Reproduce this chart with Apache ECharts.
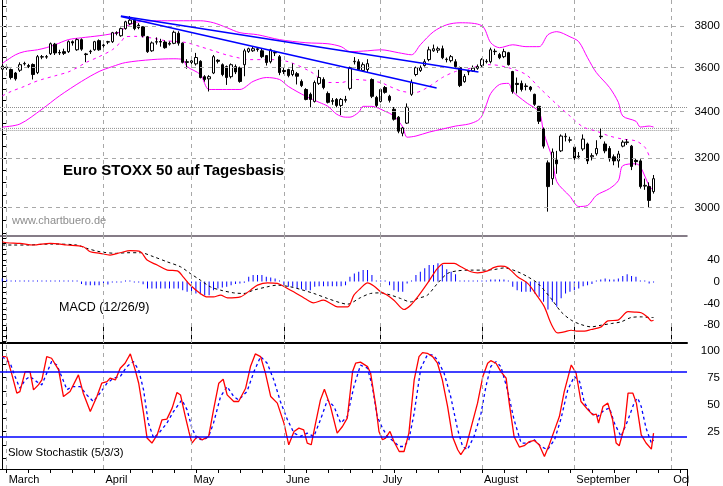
<!DOCTYPE html>
<html>
<head>
<meta charset="utf-8">
<title>EuroSTOXX 50 auf Tagesbasis</title>
<script src="https://cdn.jsdelivr.net/npm/echarts@6/dist/echarts.min.js"></script>
<style>
html, body { margin: 0; padding: 0; background: #fff; }
#main { width: 723px; height: 486px; }
</style>
</head>
<body>
<div id="main"></div>
<script>
var chart = echarts.init(document.getElementById('main'));

// trading day index 0 = 27 Feb, 148 = 25 Sep
var monthStarts = [1, 23, 43, 64, 86, 109, 130, 152];
var monthNames = ['March', 'April', 'May', 'June', 'July', 'August', 'September', 'October'];
var weekStarts = [1, 6, 11, 16, 21, 29, 34, 39, 44, 49, 54, 59, 64, 69, 74, 79, 84, 89, 94, 99,
  104, 109, 114, 119, 124, 129, 134, 139, 144, 149, 154];

var opens = [3593,3600,3591,3575,3588,3618,3610,3615,3577,3650,
  3652,3666,3712,3672,3676,3676,3724,3685,3734,3665,
  3676,3685,3729,3705,3722,3724,3765,3753,3788,3812,
  3830,3805,3797,3748,3680,3722,3725,3722,3712,3716,
  3765,3717,3628,3625,3618,3630,3558,3548,3575,3635,
  3614,3605,3558,3605,3600,3614,3677,3680,3686,3680,
  3657,3628,3672,3652,3587,3591,3568,3572,3536,3499,
  3477,3445,3527,3545,3481,3445,3454,3427,3450,3504,
  3628,3628,3587,3591,3545,3463,3445,3508,3468,3410,
  3375,3305,3349,3477,3568,3587,3610,3638,3680,3683,
  3690,3640,3633,3628,3600,3535,3580,3585,3597,3610,
  3628,3628,3676,3662,3652,3671,3582,3527,3527,3515,
  3510,3477,3423,3323,3180,3115,3192,3230,3290,3275,
  3246,3205,3238,3259,3205,3218,3292,3259,3240,3205,
  3188,3250,3265,3250,3190,3188,3085,3083,3063];
var highs = [3615,3612,3596,3580,3625,3628,3618,3620,3660,3660,
  3660,3720,3718,3685,3690,3730,3730,3740,3740,3670,
  3685,3728,3735,3715,3728,3772,3775,3793,3827,3850,
  3838,3815,3800,3752,3725,3745,3738,3730,3725,3778,
  3775,3720,3640,3640,3670,3635,3565,3565,3660,3640,
  3620,3610,3620,3615,3605,3690,3695,3700,3695,3690,
  3660,3690,3680,3660,3600,3595,3620,3580,3545,3505,
  3485,3540,3590,3555,3490,3460,3460,3460,3470,3605,
  3650,3640,3625,3640,3550,3470,3505,3515,3475,3420,
  3380,3332,3436,3545,3605,3610,3640,3700,3710,3700,
  3705,3648,3660,3640,3605,3570,3590,3610,3615,3645,
  3640,3695,3690,3670,3690,3675,3585,3554,3540,3527,
  3515,3480,3425,3330,3190,3240,3230,3300,3305,3290,
  3250,3225,3300,3265,3220,3275,3325,3270,3250,3215,
  3230,3275,3280,3255,3200,3195,3115,3100,3130];
var lows = [3588,3590,3545,3540,3580,3610,3598,3545,3570,3640,
  3642,3660,3660,3660,3660,3670,3705,3680,3680,3626,
  3665,3680,3680,3695,3712,3718,3755,3748,3783,3805,
  3780,3785,3745,3670,3675,3710,3700,3690,3705,3712,
  3705,3620,3595,3615,3610,3550,3535,3490,3570,3620,
  3560,3520,3550,3570,3530,3560,3670,3675,3676,3645,
  3610,3620,3655,3565,3570,3555,3560,3522,3510,3450,
  3419,3440,3520,3500,3436,3430,3420,3384,3440,3495,
  3615,3585,3580,3580,3460,3420,3440,3480,3440,3360,
  3305,3292,3345,3470,3560,3580,3605,3630,3675,3670,
  3640,3625,3625,3600,3510,3530,3565,3580,3590,3600,
  3620,3620,3660,3640,3645,3610,3480,3481,3490,3495,
  3490,3425,3345,3240,2984,3090,3135,3225,3270,3265,
  3180,3195,3230,3175,3190,3210,3280,3220,3185,3170,
  3160,3245,3255,3150,3170,3075,3070,3000,3055];
var closes = [3607,3603,3554,3548,3614,3620,3606,3568,3652,3652,
  3650,3714,3670,3670,3668,3724,3718,3734,3688,3662,
  3678,3724,3685,3708,3724,3768,3768,3788,3822,3830,
  3788,3793,3753,3676,3718,3724,3722,3695,3716,3770,
  3717,3625,3625,3632,3648,3554,3545,3558,3652,3630,
  3568,3554,3614,3580,3536,3680,3690,3690,3690,3652,
  3624,3685,3670,3577,3582,3563,3587,3560,3517,3454,
  3454,3531,3554,3508,3441,3449,3427,3454,3454,3600,
  3630,3591,3614,3619,3468,3427,3499,3486,3450,3366,
  3314,3328,3419,3531,3600,3600,3628,3685,3690,3690,
  3647,3638,3652,3605,3517,3559,3582,3598,3605,3638,
  3630,3685,3678,3647,3676,3614,3490,3522,3499,3513,
  3499,3432,3357,3250,3083,3225,3176,3293,3292,3277,
  3200,3208,3280,3188,3210,3240,3290,3230,3197,3188,
  3217,3267,3268,3165,3185,3083,3088,3028,3115];

// Bollinger bands [day, level]
var bbUpper = [[0,3620],[3,3661],[5,3676],[8,3685],[10,3695],[12,3709],[15,3734],[18,3743],[22,3753],[25,3763],
  [27,3773],[28,3797],[30,3817],[31,3822],[35,3827],[40,3827],[45,3827],[48,3817],[51,3793],[54,3768],
  [58,3758],[63,3734],[69,3719],[74,3714],[77,3700],[79,3676],[83,3680],[86,3685],[90,3671],[93,3661],
  [95,3709],[98,3773],[101,3807],[104,3817],[109,3802],[111,3719],[113,3695],[116,3709],[119,3700],[122,3700],
  [124,3758],[126,3773],[129,3748],[131,3724],[133,3647],[135,3577],[138,3508],[140,3441],[141,3380],[144,3357],
  [145,3332],[147,3336],[148,3332]];
var bbMiddle = [[0,3470],[2,3490],[5,3513],[7,3531],[9,3545],[12,3562],[15,3580],[17,3600],[19,3624],[22,3652],
  [25,3685],[27,3724],[28,3748],[30,3750],[32,3748],[35,3738],[37,3729],[40,3724],[42,3719],[45,3700],
  [48,3680],[51,3660],[54,3645],[56,3638],[61,3638],[65,3628],[70,3582],[74,3531],[77,3531],[80,3545],
  [86,3531],[88,3513],[91,3490],[94,3486],[97,3513],[100,3554],[103,3582],[107,3600],[109,3614],[111,3614],
  [115,3600],[119,3568],[122,3508],[126,3432],[129,3380],[132,3332],[135,3314],[138,3293],[141,3280],[144,3272],
  [146,3246],[147,3209]];
var bbLower = [[0,3332],[4,3345],[9,3410],[13,3470],[18,3536],[22,3582],[25,3605],[28,3624],[34,3638],[39,3642],
  [41,3638],[42,3605],[45,3568],[47,3499],[50,3499],[54,3499],[57,3536],[60,3554],[63,3545],[65,3513],
  [69,3468],[72,3441],[74,3423],[76,3388],[78,3375],[79,3375],[81,3397],[82,3423],[84,3423],[87,3401],
  [89,3380],[91,3332],[92,3288],[94,3293],[97,3310],[100,3323],[103,3336],[106,3345],[108,3360],[109,3380],
  [110,3430],[111,3481],[113,3522],[115,3527],[116,3490],[119,3441],[122,3397],[123,3310],[125,3197],[126,3103],
  [129,3044],[131,3004],[133,3008],[135,3048],[138,3075],[140,3107],[141,3168],[144,3176],[145,3164],[147,3087],
  [148,3067]];

// drawn lines on the price panel
var trendUpper = [[26.95, 3851], [108.2, 3580]];
var trendLower = [[26.95, 3848], [98.7, 3506]];
var supportLine = 3419;
var supportBox = [[-0.52, 3326], [153.7, 3317]];

var mainLabels = [3000, 3200, 3400, 3600, 3800];
var mainTicks = [2900,2950,3000,3050,3100,3150,3200,3250,3300,3350,3400,3450,3500,3550,3600,3650,3700,3750,3800,3850,3900];

// MACD (12/26/9)
var macdHist = [5.9,4,1,0.5,0.5,0.5,0.5,0.5,0,0,
  0,0.5,0.5,0,0,0,0.5,0,-4.6,-6.5,
  -6.5,-6.5,-6.5,-6.5,-5.5,-1,-1,-1,0.5,1.5,
  -0.5,-0.5,-5,-12.6,-12.6,-12.6,-12.6,-12.6,-12.6,-12.6,
  -12.6,-15.7,-18.8,-21.8,-21.8,-23.1,-24.9,-24.9,-15.7,-12.6,
  -10.8,-9.6,-6.5,-4.6,-3.3,-2.2,8.9,12,12,12,
  8.9,7.7,5.9,0.5,-6.5,-9.6,-9.6,-12.6,-14,-15.7,
  -15.7,-9.6,-8.3,-8.3,-8.3,-8.3,-8.3,-8.3,-6.5,8.9,
  15.1,18.1,21.2,21.2,12,2,0.5,0.5,-6.5,-15.7,
  -18.8,-18.8,-3.3,0.5,12,18.1,24.4,30.5,30.5,33.6,
  30.5,22.6,18.1,13.8,0.5,0.5,0.5,0.5,0.5,0.5,
  0.5,4,4,4,4,0.5,-9.6,-15.7,-18.8,-18.8,
  -18.8,-21.8,-27.9,-37.1,-51.3,-37.1,-46.3,-30.8,-21.8,-18.8,
  -15.7,-12.6,-8.3,-6.5,-4.6,0.5,4,5.9,4,4,
  5.9,10.5,13.8,10.5,9,0.5,0.5,-3.5,-1.5];
var macdLine = [[0,73.5],[1,71.6],[4,70.5],[7,67.4],[10.9,70.5],[14.7,67.4],[18.4,64.2],[20,55],[22.2,52.1],[24.5,48.9],
  [26.8,53.2],[29.1,56.9],[31.4,55],[32.9,39.7],[35.2,30.5],[37.5,21.2],[39.8,19.9],[41.1,8.9],[42.7,-6.2],[45,-21.8],
  [46.6,-28.1],[48,-28.1],[49.6,-24.9],[51.2,-29.9],[54.1,-28.1],[56.4,-15.7],[58,-6.5],[60.3,-2.2],[62.5,-3.3],[64.8,-12.6],
  [66.2,-18.8],[69.4,-34.2],[70.7,-39.1],[73,-34.2],[74.6,-40.2],[76.2,-46.5],[78.5,-46.5],[79.9,-24.9],[81.4,-12.6],[83,-2.2],
  [84.5,-8.3],[86,-18.8],[87.5,-24.9],[89,-34.2],[91.3,-51.3],[92.8,-43.4],[94.4,-28.1],[96.6,-3.3],[98.9,24.4],[100.4,33.6],
  [102.7,33.6],[104.2,27.3],[106.5,18.1],[108,16.2],[110.3,19.9],[111.8,26.2],[113.3,28.6],[114.8,26.2],[117.1,8.9],[119.4,-3.3],
  [121.7,-28.1],[123.2,-46.5],[124.7,-77.2],[126.2,-94.4],[127.7,-92.6],[129.3,-89.5],[130.8,-91.3],[132.3,-91.3],[133.8,-88.2],[136.1,-83.3],
  [137.6,-72.3],[139.9,-70.9],[142.2,-55.4],[143.7,-56],[145.2,-57.3],[146.7,-65.9],[147.5,-72.3],[148,-71]];
var macdSignal = [[0,67.4],[2.5,67.4],[5.6,67.4],[10.9,69.2],[16.9,67.4],[19.2,61.3],[22.2,55],[26,52.1],[28.3,53.2],[31.4,53.2],
  [34.4,45.8],[37.4,36.6],[40.5,27.3],[42.7,15.1],[45,2.8],[47.3,-9.6],[49.6,-15.7],[52.6,-20.7],[54.9,-21.8],[57.1,-15.7],
  [60.2,-9.6],[62.5,-6.5],[65.5,-9.6],[67.8,-14.4],[70.8,-21.8],[73.9,-31],[76.9,-39.1],[78.4,-41.5],[81.4,-29.5],[83.7,-21.8],
  [86,-20.7],[88.3,-24.9],[90.5,-31],[92.8,-37.3],[94.4,-31],[96.6,-24.9],[98.9,-3.3],[101.2,15.1],[103.5,19.9],[106.5,21.2],
  [109.5,21.2],[111.8,22.3],[114.1,25.3],[117.1,18.1],[119.4,8.9],[121.7,-3.3],[124.7,-31],[127,-55.7],[129.3,-71],[131.5,-78.9],
  [133.8,-83.3],[136.1,-80.2],[138.4,-77.2],[140.6,-74.1],[142.9,-66.1],[145.2,-64.9],[147.5,-66.1],[148,-66.1]];
var macdLabels = [-80, -40, 0, 40];
var macdTicks = [-110,-100,-90,-80,-70,-60,-50,-40,-30,-20,-10,0,10,20,30,40,50,60,70,80];

// Slow Stochastik (5/3/3)
var stochK = [[0,94.4],[1,94.4],[2.1,79.1],[3.3,60.6],[4,62.1],[5.2,80.6],[6.3,80.6],[7.1,63.7],[8.2,68.3],[9,72.9],
  [10.1,94.4],[11.2,92.9],[12.8,82.1],[13.9,57.5],[15.4,62.1],[17.3,77.5],[18.4,60.6],[20,43.6],[21.5,57.5],[22.6,69.8],
  [23.8,71.3],[24.5,74.5],[25.7,72.9],[26.8,83.7],[27.9,88.3],[29.1,96.9],[30.2,82.1],[31,69.8],[32.1,42.1],[32.9,19.1],
  [34,14.5],[35.2,22.1],[36.3,36],[37.4,36.6],[38.6,46.8],[39.7,61.2],[40.5,59],[41.6,39],[42.4,25.2],[43.1,14.5],
  [44.3,20.6],[45.4,17.5],[46.9,20.6],[48,45.2],[49.2,69.8],[50.2,73.5],[51.1,59],[52.6,52.9],[53.7,52.9],[55.3,65.2],
  [56.4,85.2],[57.5,96.9],[58.7,94.4],[59.8,79.1],[61,57.5],[62.5,51.4],[64,32.9],[65.1,12.9],[66.3,25.2],[67.4,28.3],
  [68.5,26.7],[69.3,14.5],[70.2,12.9],[71.2,32.9],[72.3,54.4],[73.2,64.3],[74.6,48.2],[76.1,23.7],[77.3,29.8],[78.4,37.5],
  [79.6,80.6],[80.3,88.3],[81.4,89.3],[83,85.2],[83.7,79.1],[84.9,48.2],[85.6,25.2],[86.4,17.5],[87.1,19.1],[88.1,25.2],
  [89,15.9],[90.2,6.7],[91.3,6.7],[92.4,23.7],[93.6,72.9],[94.7,94.4],[95.5,98.1],[96.6,97.5],[97.8,94.4],[98.9,88.3],
  [100,72.9],[101.2,48.2],[102.3,20.6],[103.5,8.3],[104.2,3.7],[105.4,11.3],[106.5,28.3],[108,51.4],[109.2,76],[110.3,88.3],
  [111,90.7],[112.2,88.3],[113.3,80.6],[114.5,74.5],[115.2,51.4],[116.3,20.6],[117.5,10.8],[118.6,12],[119.8,15.9],[120.9,16.9],
  [122,12.9],[123.2,2.1],[124.3,12.9],[125.5,26.7],[126.6,39],[127.7,62.1],[129.3,86.7],[130.4,79.1],[131.5,52.9],[133.1,45.2],
  [134.2,40.6],[135,41.2],[135.5,32.9],[136.5,48.2],[137.6,51.4],[138.7,36],[139.5,14.5],[140.2,12],[141.4,29.8],[142.2,60.6],
  [143.3,60.6],[144.1,51.4],[145.2,22.1],[146.3,14.5],[147.5,8.9],[148,23.7]];
var stochD = [[0,94.4],[1.8,88.3],[2.9,76],[4,65.2],[5.2,72.9],[6.3,76],[7.8,71.3],[9,68.3],[10.1,79.1],[11.2,89.8],
  [12.4,86.7],[13.5,76],[14.7,63.7],[15.8,66.7],[17.7,66.7],[19.2,59],[20.7,52.9],[22.2,60.6],[23.8,69.8],[25.3,74.5],
  [26.8,76],[28.3,85.2],[29.8,89.8],[31,82.1],[32.1,63.7],[33.2,32.9],[34.4,19.1],[35.9,25.2],[37.4,32.9],[38.9,43.6],
  [40.8,54.4],[42,45.2],[43.1,28.3],[44.3,18.2],[45.8,17.5],[46.9,20.6],[48,32.9],[49.6,57.5],[51.1,66.7],[52.6,57.5],
  [53.7,54.4],[55.6,62.1],[57.2,80.6],[58.7,94.4],[60.2,88.3],[61.7,72.9],[63.2,52.9],[64.8,36],[66.3,23.7],[67.8,20.6],
  [69.3,23.7],[70.8,20.6],[72.3,36],[73.9,54.4],[75.4,48.2],[76.9,32.9],[78.4,39],[79.9,66.7],[81.4,86.5],[83,83.7],
  [84.1,66.7],[85.2,39],[86.4,28.3],[87.5,20.6],[89,15.9],[90.2,11.3],[91.3,11.3],[92.4,17.5],[93.6,42.1],[95.1,83.7],
  [96.6,96],[97.8,96],[98.9,91.4],[100.4,79.1],[101.9,57.5],[103.5,26.7],[104.6,11.3],[105.7,8.3],[107.2,20.6],[108.8,42.1],
  [109.9,66.7],[111,85.2],[112.2,89.8],[113.3,85.2],[114.8,63.7],[116.3,36],[117.9,14.5],[119.4,14.5],[120.9,17.5],[122.4,11.3],
  [123.9,8.3],[125.5,17.5],[127,37.5],[128.5,63.7],[130,76],[131.2,71.3],[132.3,51.4],[133.8,42.1],[135.3,39],[136.8,45.2],
  [138,46.8],[139.1,32.9],[140.6,20.6],[142.2,36],[143.7,52.9],[144.4,56],[145.2,48.2],[146.3,28.3],[147.5,14.5],[148,17.5]];
var stochLevels = [80, 20];
var stochLabels = [25, 50, 75, 100];
var stochTicks = [0, 12.5, 25, 37.5, 50, 62.5, 75, 87.5, 100];

var FONT = "'Liberation Sans', Arial, sans-serif";
var gridDash = { color: '#a8a8a8', type: [4, 4], width: 1 };

var candleData = opens.map(function (o, i) { return [i, o, closes[i], lows[i], highs[i]]; });
var histData = macdHist.map(function (v, i) { return [i, v]; });
var monthLines = monthStarts.map(function (m) { return { xAxis: m }; });

function xAxisFor(grid, extra) {
  var a = {
    type: 'value', gridIndex: grid, min: -0.52, max: 155.6,
    axisLine: { show: false }, axisTick: { show: false },
    axisLabel: { show: false }, splitLine: { show: false }
  };
  for (var k in extra) a[k] = extra[k];
  return a;
}

function yLabel(values) {
  return {
    customValues: values, color: '#000', fontSize: 11.5, fontFamily: FONT,
    align: 'right', margin: 33, padding: [6, 0, 0, 0],
    formatter: function (v) { return String(v); }
  };
}

function yAxisFor(grid, extra) {
  var a = {
    gridIndex: grid, position: 'right',
    axisLine: { show: true, lineStyle: { color: '#000', width: 1 } },
    splitLine: { show: false }
  };
  for (var k in extra) a[k] = extra[k];
  return a;
}

function guides(ax, items) {
  return {
    type: 'line', xAxisIndex: ax, yAxisIndex: ax, data: [], silent: true, z: 1,
    markLine: { silent: true, symbol: ['none', 'none'], label: { show: false }, lineStyle: gridDash, data: items }
  };
}

var mainGuides = guides(0, monthLines.concat(mainLabels.map(function (v) { return { yAxis: v }; }), [
  { yAxis: supportLine, lineStyle: { color: '#8f8f8f', type: 'dotted', width: 1 } }
]));
mainGuides.markArea = {
  silent: true,
  itemStyle: { color: 'rgba(0,0,0,0)', borderColor: '#8f8f8f', borderWidth: 1, borderType: 'dotted' },
  data: [[{ coord: supportBox[0] }, { coord: supportBox[1] }]]
};

var stochGuides = guides(2, monthLines.concat(stochLevels.map(function (v) {
  return { yAxis: v, lineStyle: { color: '#0000ff', type: 'solid', width: 1.5 } };
})));

var option = {
  animation: false,
  backgroundColor: '#fff',
  textStyle: { fontFamily: FONT },
  grid: [
    { left: 0, top: 0, width: 687.5, height: 236 },
    { left: 0, top: 236, width: 687.5, height: 107 },
    { left: 0, top: 343, width: 687.5, height: 126 }
  ],
  xAxis: [
    xAxisFor(0, { axisLine: { show: true, onZero: false, lineStyle: { color: '#5e5260', width: 1.5 } } }),
    xAxisFor(1, { axisLine: { show: true, onZero: false, lineStyle: { color: '#000', width: 2 } } }),
    xAxisFor(2, {
      axisLine: { show: true, onZero: false, lineStyle: { color: '#000', width: 1 } },
      axisTick: { show: true, customValues: weekStarts, length: 4, lineStyle: { color: '#000' } },
      axisLabel: {
        show: true, customValues: monthStarts, align: 'left', margin: 5, padding: [0, 0, 0, 2],
        color: '#000', fontSize: 11, fontFamily: FONT,
        formatter: function (v) { var k = monthStarts.indexOf(v); return k < 0 ? '' : monthNames[k]; }
      }
    }),
    xAxisFor(2, {
      axisLine: { show: false, onZero: false },
      axisTick: { show: true, customValues: monthStarts, length: 17, lineStyle: { color: '#000' } }
    })
  ],
  yAxis: [
    yAxisFor(0, {
      type: 'log', logBase: 10, min: 2890.7, max: 3932,
      axisTick: { show: true, length: 4, customValues: mainTicks, lineStyle: { color: '#000' } },
      axisLabel: yLabel(mainLabels)
    }),
    yAxisFor(1, {
      type: 'value', min: -113, max: 84,
      axisTick: { show: true, length: 4, customValues: macdTicks, lineStyle: { color: '#000' } },
      axisLabel: yLabel(macdLabels)
    }),
    yAxisFor(2, {
      type: 'value', min: -9.5, max: 107,
      axisTick: { show: true, length: 4, customValues: stochTicks, lineStyle: { color: '#000' } },
      axisLabel: yLabel(stochLabels)
    })
  ],
  series: [
    mainGuides,
    { type: 'line', xAxisIndex: 0, yAxisIndex: 0, data: bbUpper, showSymbol: false, smooth: 0.3, z: 2,
      lineStyle: { color: '#ff00ff', width: 1 } },
    { type: 'line', xAxisIndex: 0, yAxisIndex: 0, data: bbMiddle, showSymbol: false, smooth: 0.3, z: 2,
      lineStyle: { color: '#ff00ff', width: 1, type: [3, 4] } },
    { type: 'line', xAxisIndex: 0, yAxisIndex: 0, data: bbLower, showSymbol: false, smooth: 0.3, z: 2,
      lineStyle: { color: '#ff00ff', width: 1 } },
    { type: 'candlestick', xAxisIndex: 0, yAxisIndex: 0, data: candleData, barWidth: 3, z: 3,
      encode: { x: 0, y: [1, 2, 3, 4] },
      itemStyle: { color: '#ffffff', color0: '#000000', borderColor: '#000000', borderColor0: '#000000',
        borderColorDoji: '#000000', borderWidth: 1 } },
    { type: 'line', xAxisIndex: 0, yAxisIndex: 0, data: [], silent: true, z: 4,
      markLine: { silent: true, symbol: ['none', 'none'], label: { show: false },
        lineStyle: { color: '#0000ff', width: 1.5, type: 'solid' },
        data: [
          [{ coord: trendUpper[0] }, { coord: trendUpper[1] }],
          [{ coord: trendLower[0] }, { coord: trendLower[1] }]
        ] } },

    guides(1, monthLines),
    { type: 'bar', xAxisIndex: 1, yAxisIndex: 1, data: histData, barWidth: 1, barMinHeight: 1, z: 2,
      itemStyle: { color: '#0000ff' } },
    { type: 'line', xAxisIndex: 1, yAxisIndex: 1, data: macdSignal, showSymbol: false, smooth: 0.3, z: 3,
      lineStyle: { color: '#000', width: 1, type: [3, 3] } },
    { type: 'line', xAxisIndex: 1, yAxisIndex: 1, data: macdLine, showSymbol: false, smooth: 0.3, z: 4,
      lineStyle: { color: '#ff0000', width: 1.2 } },

    stochGuides,
    { type: 'line', xAxisIndex: 2, yAxisIndex: 2, data: stochD, showSymbol: false, z: 3,
      lineStyle: { color: '#0000ff', width: 1.3, type: [3, 3] } },
    { type: 'line', xAxisIndex: 2, yAxisIndex: 2, data: stochK, showSymbol: false, z: 4,
      lineStyle: { color: '#ff0000', width: 1.3 } }
  ],
  graphic: [
    { type: 'text', x: 63, y: 171, z: 50, style: { text: 'Euro STOXX 50 auf Tagesbasis', fill: '#000',
      font: "bold 15px " + FONT, verticalAlign: 'middle' } },
    { type: 'text', x: 12, y: 221, z: 50, style: { text: 'www.chartbuero.de', fill: '#8c8c8c',
      font: "11px " + FONT, verticalAlign: 'middle' } },
    { type: 'text', x: 59, y: 308, z: 50, style: { text: 'MACD (12/26/9)', fill: '#000',
      font: "12.5px " + FONT, verticalAlign: 'middle' } },
    { type: 'text', x: 8, y: 453, z: 50, style: { text: 'Slow Stochastik (5/3/3)', fill: '#000',
      font: "11.3px " + FONT, verticalAlign: 'middle' } },
    { type: 'rect', z: 100, shape: { x: 688.5, y: 470, width: 35, height: 16 }, style: { fill: '#fff' } },
    { type: 'line', z: 101, shape: { x1: 687.5, y1: 469, x2: 687.5, y2: 486 }, style: { stroke: '#000', lineWidth: 1 } }
  ]
};

chart.setOption(option);
</script>
</body>
</html>
